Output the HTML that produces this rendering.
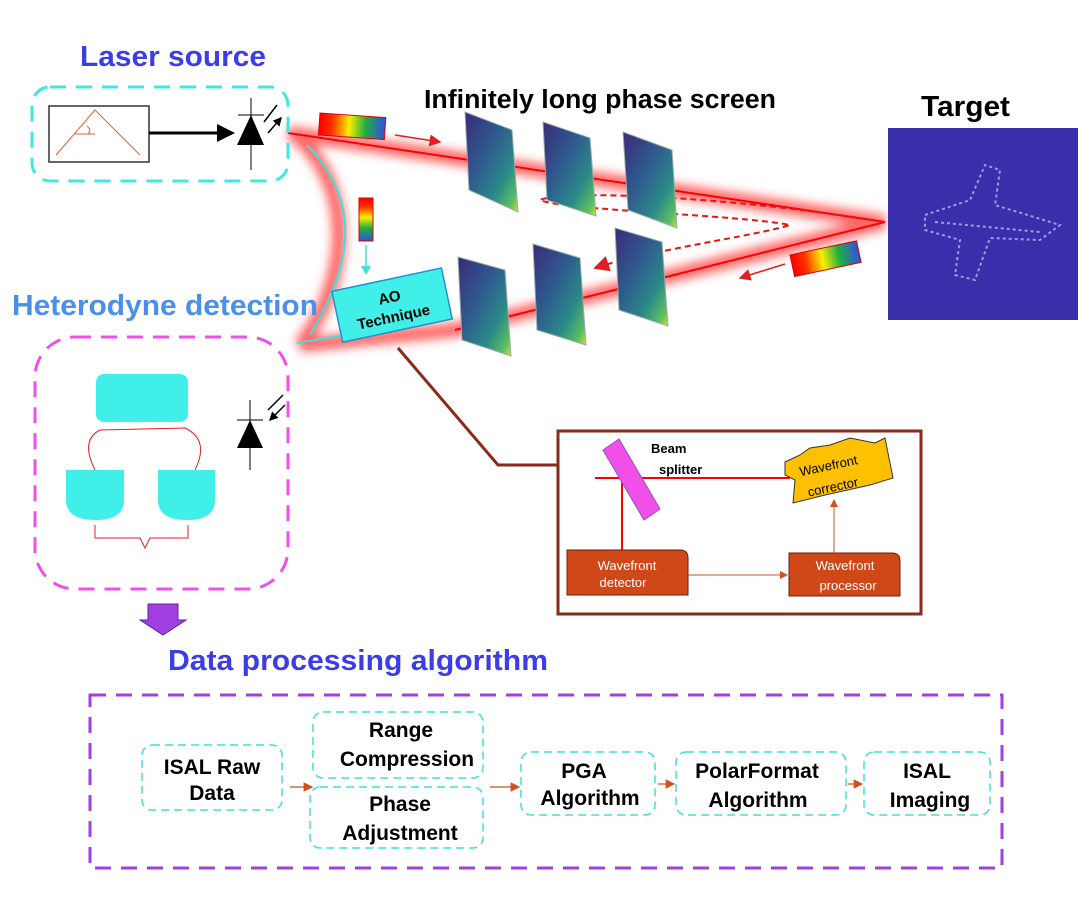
<!DOCTYPE html>
<html><head><meta charset="utf-8"><style>
body{margin:0;background:#fff}
svg{display:block;font-family:"Liberation Sans",Arial,sans-serif}
</style></head><body>
<svg width="1092" height="909" viewBox="0 0 1092 909" xmlns="http://www.w3.org/2000/svg">
<defs>
<filter id="glow" x="-20%" y="-50%" width="140%" height="200%"><feGaussianBlur stdDeviation="5"/></filter>
<linearGradient id="rain" x1="0" x2="1" y1="0" y2="0">
<stop offset="0" stop-color="#ff0000"/><stop offset="0.2" stop-color="#ff3000"/><stop offset="0.45" stop-color="#ffee00"/><stop offset="0.7" stop-color="#20b040"/><stop offset="1" stop-color="#3050e0"/></linearGradient>
<linearGradient id="rainv" x1="0" x2="0" y1="0" y2="1">
<stop offset="0" stop-color="#ff0000"/><stop offset="0.2" stop-color="#ff3000"/><stop offset="0.45" stop-color="#ffee00"/><stop offset="0.7" stop-color="#20b040"/><stop offset="1" stop-color="#3050e0"/></linearGradient>
<linearGradient id="vir" x1="0" y1="0" x2="1" y2="1">
<stop offset="0" stop-color="#3b2a78"/><stop offset="0.4" stop-color="#2e5a8e"/><stop offset="0.7" stop-color="#2a8a88"/><stop offset="0.9" stop-color="#5cc060"/><stop offset="1" stop-color="#d8e030"/></linearGradient>
<marker id="ar" markerWidth="8" markerHeight="8" refX="7" refY="4" orient="auto"><path d="M0,0L8,4L0,8z" fill="#e02020"/></marker>
<marker id="ao" markerWidth="8" markerHeight="8" refX="7" refY="4" orient="auto"><path d="M0,0L8,4L0,8z" fill="#d05020"/></marker>
<marker id="ab" markerWidth="6" markerHeight="6" refX="5" refY="3" orient="auto"><path d="M0,0L6,3L0,6z" fill="#000"/></marker>
</defs>

<g filter="url(#glow)" stroke="#ff4040" stroke-width="14" fill="none" opacity="0.8">
<path d="M288,133 L885,222"/>
<path d="M885,222 L455,330 L300,345"/>
<path d="M295,135 C360,190 345,290 300,345"/>
<path d="M590,478 L790,478"/>
<path d="M622,478 L622,552"/>
</g>
<path d="M288,133 L885,222" stroke="#ff0000" stroke-width="2"/>
<path d="M885,222 L455,330" stroke="#ff0000" stroke-width="2"/>
<path d="M885,222 C720,195 560,190 540,200 C560,210 740,215 790,225 C760,235 650,250 595,268" stroke="#ee1111" stroke-width="2" fill="none" stroke-dasharray="6,4" marker-end="url(#ar)"/>
<path d="M395,135 L440,142" stroke="#e02020" stroke-width="1.5" marker-end="url(#ar)"/>
<path d="M785,264 L740,278" stroke="#e02020" stroke-width="1.5" marker-end="url(#ar)"/>
<path d="M307,145 C360,200 355,260 310,335" stroke="#40e0d8" stroke-width="2" fill="none"/>
<path d="M297,343 L340,336" stroke="#40e0d8" stroke-width="2"/>
<path d="M366,245 L366,268" stroke="#40e0d8" stroke-width="1.5"/><path d="M361,266 L366,275 L371,266z" fill="#40e0d8"/>

<g transform="translate(320,113) rotate(4)"><rect width="66" height="22" fill="url(#rain)" stroke="#d00" stroke-width="1"/></g>
<g transform="translate(790,255) rotate(-12)"><rect width="68" height="22" fill="url(#rain)" stroke="#d00" stroke-width="1"/></g>
<rect x="359" y="198" width="14" height="43" fill="url(#rainv)" stroke="#d00"/>

<g stroke="#9aa" stroke-width="1">
<path d="M465,112 L512,130 L518,212 L469,190z" fill="url(#vir)"/>
<path d="M543,122 L590,138 L596,216 L547,200z" fill="url(#vir)"/>
<path d="M623,132 L672,150 L677,228 L628,210z" fill="url(#vir)"/>
<path d="M458,257 L505,270 L511,356 L462,340z" fill="url(#vir)"/>
<path d="M533,244 L580,258 L586,345 L537,330z" fill="url(#vir)"/>
<path d="M615,228 L662,242 L668,326 L619,310z" fill="url(#vir)"/>
</g>

<rect x="888" y="128" width="190" height="192" fill="#3a2faa"/>
<g stroke="#a8b0e8" stroke-width="2" stroke-dasharray="3,3" fill="none" opacity="0.85">
<path d="M925,215 L970,200 L985,165 L1000,170 L995,205 L1060,225 L1040,240 L990,238 L975,280 L955,275 L960,240 L925,230z"/>
<path d="M935,222 L1040,232"/>
</g>

<text x="80" y="66" font-size="28.5" font-weight="bold" fill="#3c3ce8" textLength="186" lengthAdjust="spacingAndGlyphs">Laser source</text>
<text x="424" y="108" font-size="25.5" font-weight="bold" fill="#000" textLength="352" lengthAdjust="spacingAndGlyphs">Infinitely long phase screen</text>
<text x="921" y="116" font-size="29" font-weight="bold" fill="#000" textLength="89" lengthAdjust="spacingAndGlyphs">Target</text>
<text x="12" y="315" font-size="29" font-weight="bold" fill="#4a90e8" textLength="306" lengthAdjust="spacingAndGlyphs">Heterodyne detection</text>
<text x="168" y="670" font-size="28.5" font-weight="bold" fill="#3c3ce8" textLength="380" lengthAdjust="spacingAndGlyphs">Data processing algorithm</text>

<rect x="32" y="87" width="256" height="94" rx="18" fill="none" stroke="#40e8e0" stroke-width="3" stroke-dasharray="16,10"/>
<rect x="49" y="106" width="100" height="56" fill="#fff" stroke="#333" stroke-width="1.5"/>
<path d="M56,155 L95,110 L140,155" stroke="#e06030" fill="none"/>
<path d="M75,134 L95,134 M87,126 Q92,130 88,134" stroke="#e06030" fill="none"/>
<path d="M149,133 L232,133" stroke="#000" stroke-width="3" marker-end="url(#ab)"/>
<path d="M237,145 L251,115 L264,145z" fill="#000"/>
<path d="M251,98 L251,170 M238,115 L264,115" stroke="#000"/>
<path d="M264,122 L277,105 M268,133 L281,118" stroke="#000" stroke-width="1.5" marker-end="url(#ab)"/>

<g transform="translate(335,306) rotate(-12)"><rect x="0" y="-15" width="112" height="52" fill="#40f0e8" stroke="#2090d0" stroke-width="1.5"/>
<text x="55" y="8" font-size="15" font-weight="bold" text-anchor="middle">AO</text>
<text x="55" y="28" font-size="15" font-weight="bold" text-anchor="middle">Technique</text></g>
<path d="M398,348 L498,465 L558,465" stroke="#8a2a1a" stroke-width="3" fill="none"/>

<rect x="35" y="337" width="253" height="252" rx="40" fill="none" stroke="#f050e8" stroke-width="3" stroke-dasharray="16,10"/>
<rect x="96" y="374" width="92" height="48" rx="8" fill="#40f0e8"/>
<path d="M96,470 L124,470 L124,500 Q124,520 96,520 Q66,520 66,500 L66,470z" fill="#40f0e8"/>
<path d="M158,470 L215,470 L215,500 Q215,520 187,520 Q158,520 158,500z" fill="#40f0e8"/>
<path d="M95,470 Q80,440 100,430 L185,428 Q210,440 195,470" stroke="#e02020" fill="none"/>
<path d="M95,525 L95,538 L140,538 L145,548 L150,538 L188,538 L188,525" stroke="#e02020" fill="none"/>
<path d="M237,448 L250,420 L263,448z" fill="#000"/>
<path d="M250,400 L250,470 M237,420 L263,420" stroke="#000"/>
<path d="M283,395 L268,410 M285,405 L270,420" stroke="#000" stroke-width="1.5" marker-end="url(#ab)"/>
<path d="M148,604 L178,604 L178,620 L186,620 L163,635 L140,620 L148,620z" fill="#a040e0" stroke="#6020a0"/>

<rect x="558" y="431" width="363" height="183" fill="#fff" stroke="#8a2a1a" stroke-width="3"/>
<path d="M595,478 L790,478 M622,478 L622,552" stroke="#ff0000" stroke-width="2"/>
<path d="M603,450 L619,439 L660,509 L644,520z" fill="#f050e8" stroke="#9050c0"/>
<text x="651" y="453" font-size="13" font-weight="bold">Beam</text>
<text x="659" y="474" font-size="13" font-weight="bold">splitter</text>
<path d="M785,462 L800,455 L810,448 L830,445 L850,438 L875,443 L885,438 L893,478 L870,485 L825,495 L793,503 L795,480 L785,475z" fill="#ffc000" stroke="#333"/>
<text x="800" y="470" font-size="13" transform="rotate(-12 830 470)">Wavefront</text>
<text x="808" y="490" font-size="13" transform="rotate(-12 840 490)">corrector</text>
<path d="M567,550 L680,550 Q688,550 688,558 L688,595 L567,595z" fill="#d04818" stroke="#6a2010"/>
<text x="627" y="570" font-size="13" fill="#fff" text-anchor="middle">Wavefront</text>
<text x="623" y="587" font-size="13" fill="#fff" text-anchor="middle">detector</text>
<path d="M789,553 L892,553 Q900,553 900,561 L900,596 L789,596z" fill="#d04818" stroke="#6a2010"/>
<text x="845" y="570" font-size="13" fill="#fff" text-anchor="middle">Wavefront</text>
<text x="848" y="590" font-size="13" fill="#fff" text-anchor="middle">processor</text>
<path d="M688,575 L787,575" stroke="#d05020" marker-end="url(#ao)"/>
<path d="M834,553 L834,500" stroke="#d05020" marker-end="url(#ao)"/>

<rect x="90" y="695" width="912" height="173" fill="none" stroke="#a040e0" stroke-width="3" stroke-dasharray="16,10"/>
<g fill="none" stroke="#40e0d8" stroke-width="1.5" stroke-dasharray="8,5">
<rect x="142" y="745" width="140" height="65" rx="10"/>
<rect x="313" y="712" width="170" height="66" rx="10"/>
<rect x="310" y="787" width="173" height="61" rx="10"/>
<rect x="521" y="752" width="134" height="63" rx="10"/>
<rect x="676" y="752" width="170" height="63" rx="10"/>
<rect x="864" y="752" width="126" height="63" rx="10"/>
</g>
<g font-size="21" font-weight="bold" text-anchor="middle">
<text x="212" y="774">ISAL Raw</text><text x="212" y="800">Data</text>
<text x="401" y="737">Range</text><text x="407" y="766">Compression</text>
<text x="400" y="811">Phase</text><text x="400" y="840">Adjustment</text>
<text x="584" y="778">PGA</text><text x="590" y="805">Algorithm</text>
<text x="757" y="778">PolarFormat</text><text x="758" y="807">Algorithm</text>
<text x="927" y="778">ISAL</text><text x="930" y="807">Imaging</text>
</g>
<g stroke="#d05020" stroke-width="1.2" marker-end="url(#ao)">
<path d="M290,787 L312,787"/><path d="M490,787 L519,787"/><path d="M658,784 L674,784"/><path d="M848,784 L862,784"/>
</g>
</svg>
</body></html>
